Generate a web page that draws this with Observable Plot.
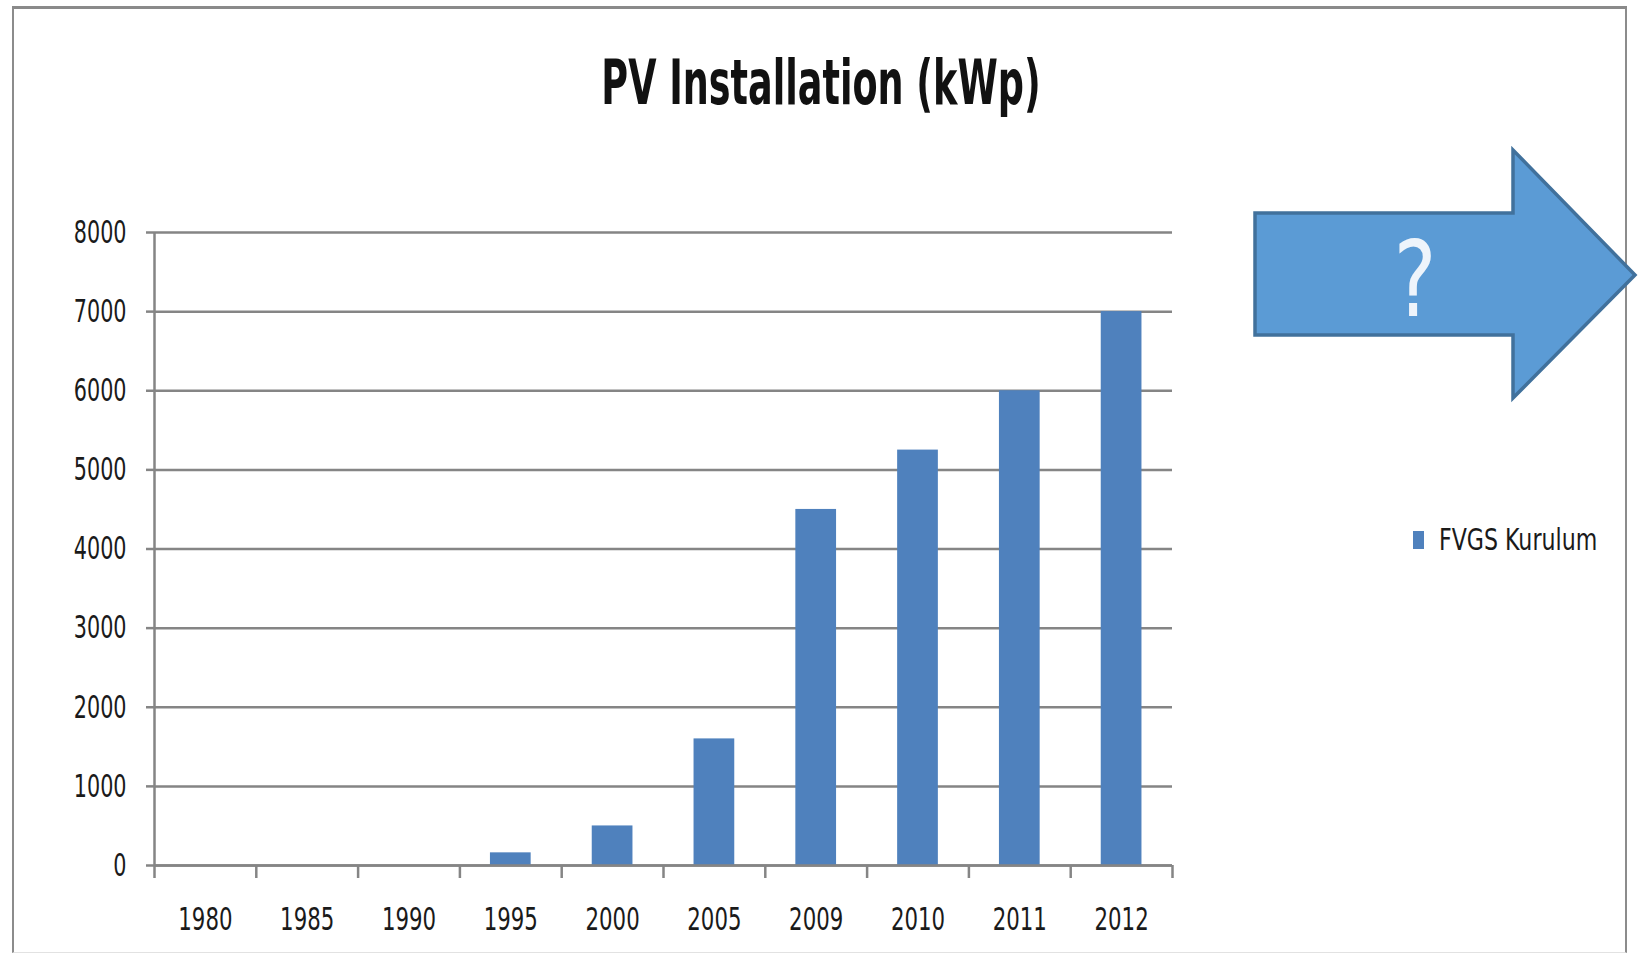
<!DOCTYPE html>
<html><head><meta charset="utf-8">
<script src="https://cdn.jsdelivr.net/npm/d3@7"></script>
<script src="https://cdn.jsdelivr.net/npm/@observablehq/plot@0.6"></script>
<style>
body{margin:0;background:#fff;}
#wrap{position:relative;width:1638px;height:953px;overflow:hidden;font-family:"Liberation Sans Narrow","DejaVu Sans Condensed",sans-serif;}
#frame{position:absolute;left:12px;top:6px;width:1611px;height:943px;border-left:2px solid #8c8c8c;border-right:2px solid #8c8c8c;border-top:3px solid #8a8a8a;border-bottom:1px solid #e2e2e2;}
#chart{position:absolute;left:0;top:0;}
#deco{position:absolute;left:0;top:0;}
</style>
</head><body>
<div id="wrap"><div id="frame"></div><div id="chart"></div>
<svg id="deco" width="1638" height="953" font-family="'Liberation Sans Narrow','DejaVu Sans Condensed',sans-serif">
  <text transform="translate(821,104) scale(0.753,1.15)" text-anchor="middle" font-size="54" font-weight="bold" fill="#111">PV Installation (kWp)</text>
  <polygon points="1255,213 1513,213 1513,150 1635,275 1513,398 1513,335 1255,335" fill="#5b9bd5" stroke="#41719c" stroke-width="3.5" stroke-linejoin="miter"/>
  <text transform="translate(1415,316) scale(0.85,1)" text-anchor="middle" font-size="105" fill="#eef4fb">?</text>
  <rect x="1413" y="531" width="11" height="18" fill="#4f81bd"/>
  <text transform="translate(1439,550) scale(0.82,1)" font-size="30" fill="#1a1a1a">FVGS Kurulum</text>
</svg>
</div>
<script>
const years = ["1980","1985","1990","1995","2000","2005","2009","2010","2011","2012"];
const installed = [0,0,0,160,500,1600,4500,5250,6000,7000];
const yTicks = [0,1000,2000,3000,4000,5000,6000,7000,8000];

const W = 1638, H = 953, ml = 154, mr = 466, mt = 232, mb = 88;
const step = (W - ml - mr) / years.length;
const data = years.map((y, i) => ({year: y, value: installed[i]}));
const grid = "#858585";
const font = "'Liberation Sans Narrow','DejaVu Sans Condensed',sans-serif";

const chart = Plot.plot({
  width: W, height: H,
  marginLeft: ml, marginRight: mr, marginTop: mt, marginBottom: mb,
  style: {background: "transparent", fontFamily: font, fontSize: "32px", color: "#1a1a1a"},
  x: {domain: years, paddingInner: 0.6, paddingOuter: 0.3, round: false, label: null},
  y: {domain: [0, 8000], label: null},
  marks: [
    Plot.ruleY(yTicks, {stroke: grid, strokeWidth: 2.5}),
    Plot.barY(data, {x: "year", y: "value", fill: "#4f81bd"}),
    Plot.ruleY([0], {stroke: grid, strokeWidth: 2.5}),
    Plot.ruleX([years[0]], {y1: 8000, y2: 0, dx: -step / 2, insetBottom: -13, stroke: grid, strokeWidth: 2.5}),
    Plot.ruleX(years, {y1: 0, y2: 0, dx: step / 2, insetBottom: -13, stroke: grid, strokeWidth: 2.5}),
    Plot.axisY({ticks: yTicks, tickSize: 8, tickPadding: 20, stroke: grid, strokeWidth: 2.5, fontSize: 32, tickFormat: d => String(d), label: null}),
    Plot.axisX({tickSize: 0, tickPadding: 42, fontSize: 32, label: null})
  ]
});

function squeeze(sel, s) {
  chart.querySelectorAll(sel).forEach(t => {
    const tr = t.getAttribute("transform") || "";
    t.setAttribute("transform", `${tr} scale(${s},1)`);
  });
}
squeeze('[aria-label="x-axis tick label"] text', 0.74);
squeeze('[aria-label="y-axis tick label"] text', 0.72);
document.getElementById("chart").appendChild(chart);
</script>
</body></html>
